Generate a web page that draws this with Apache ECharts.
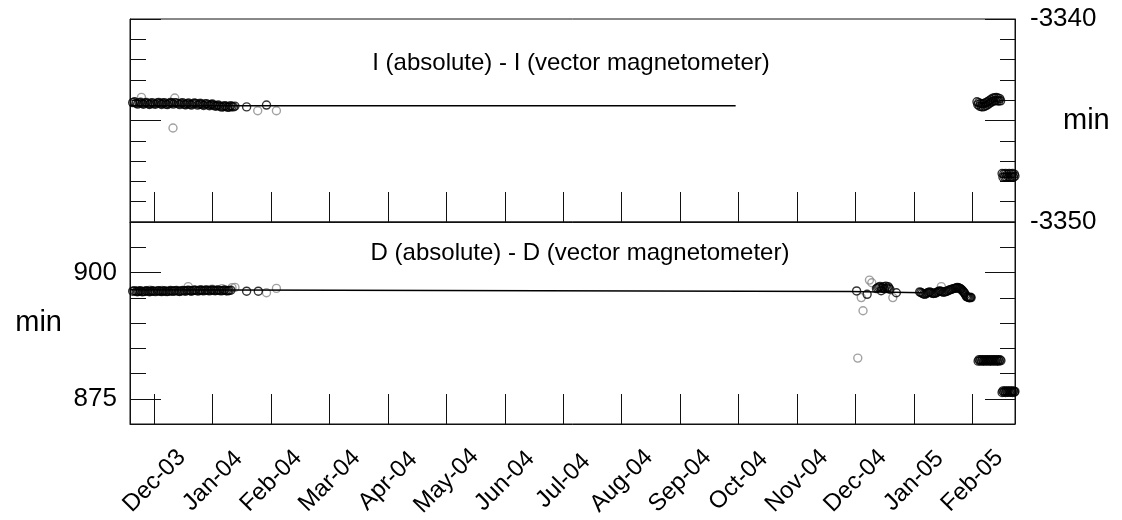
<!DOCTYPE html>
<html><head><meta charset="utf-8">
<script src="https://cdn.jsdelivr.net/npm/echarts@6/dist/echarts.min.js"></script>
<style>html,body{margin:0;padding:0;background:#fff}#c{width:1122px;height:520px}</style>
</head><body><div id="c"></div>
<script>
// ---- axis tick data ----
const monthLabels = ['Dec-03','Jan-04','Feb-04','Mar-04','Apr-04','May-04','Jun-04','Jul-04','Aug-04','Sep-04','Oct-04','Nov-04','Dec-04','Jan-05','Feb-05'];
const tickMonths = [0,1,2,3,4,5,6,7,8,9,10,11,12,13,14]; // months after Dec-03
const iMajorTicks = [-3350,-3345,-3340];
const iLabelValues = [-3350,-3340];
const dMajorTicks = [875,900];
const dLabelValues = [875,900];

// ---- I (absolute) - I (vector magnetometer)  [x: months after Dec-03, y: min] ----
const iBlack = [
[-0.37,-3344.12],[-0.34,-3344.08],[-0.31,-3344.15],[-0.285,-3344.19],[-0.26,-3344.13],[-0.235,-3344.10],[-0.21,-3344.16],[-0.185,-3344.20],
[-0.16,-3344.14],[-0.135,-3344.11],[-0.11,-3344.17],[-0.085,-3344.21],[-0.06,-3344.15],[-0.035,-3344.12],[-0.01,-3344.18],[0.02,-3344.20],
[0.05,-3344.14],[0.075,-3344.11],[0.10,-3344.17],[0.125,-3344.21],[0.15,-3344.15],[0.175,-3344.12],[0.20,-3344.19],[0.225,-3344.22],
[0.25,-3344.16],[0.275,-3344.11],[0.30,-3344.14],[0.325,-3344.19],[0.35,-3344.12],[0.38,-3344.13],[0.41,-3344.17],[0.435,-3344.22],
[0.46,-3344.15],[0.485,-3344.12],[0.51,-3344.19],[0.535,-3344.23],[0.56,-3344.17],[0.585,-3344.14],[0.61,-3344.20],[0.635,-3344.24],
[0.66,-3344.18],[0.685,-3344.14],[0.71,-3344.16],[0.74,-3344.24],[0.77,-3344.20],[0.795,-3344.16],[0.82,-3344.22],[0.845,-3344.26],
[0.87,-3344.19],[0.895,-3344.17],[0.92,-3344.23],[0.945,-3344.27],[0.97,-3344.21],[0.995,-3344.19],[1.02,-3344.25],[1.045,-3344.30],
[1.07,-3344.27],[1.095,-3344.24],[1.12,-3344.30],[1.15,-3344.34],[1.18,-3344.32],[1.205,-3344.27],[1.23,-3344.30],[1.255,-3344.35],
[1.28,-3344.33],[1.305,-3344.27],[1.33,-3344.31],[1.355,-3344.33],[1.38,-3344.29],[1.58,-3344.33],[1.92,-3344.24],
[14.080,-3344.08],[14.095,-3344.22],[14.110,-3344.12],[14.125,-3344.30],[14.140,-3344.16],[14.155,-3344.32],[14.170,-3344.18],[14.185,-3344.33],
[14.200,-3344.16],[14.215,-3344.30],[14.230,-3344.12],[14.245,-3344.26],[14.260,-3344.08],[14.275,-3344.20],[14.290,-3344.02],[14.305,-3344.14],
[14.320,-3343.96],[14.335,-3344.08],[14.350,-3343.90],[14.365,-3344.04],[14.380,-3343.88],[14.395,-3344.02],[14.410,-3343.87],[14.425,-3344.03],
[14.440,-3343.89],[14.455,-3344.04],[14.470,-3343.92],[14.485,-3344.03],
[14.510,-3347.61],[14.525,-3347.79],[14.540,-3347.63],[14.555,-3347.78],[14.570,-3347.61],[14.585,-3347.79],[14.600,-3347.64],[14.615,-3347.77],
[14.630,-3347.61],[14.645,-3347.79],[14.660,-3347.63],[14.675,-3347.78],[14.690,-3347.61],[14.705,-3347.79],[14.720,-3347.64],[14.730,-3347.74]
];
const iGray = [
[-0.33,-3344.10],[-0.22,-3343.86],[-0.07,-3344.20],[0.13,-3344.12],[0.32,-3345.37],[0.35,-3343.89],[0.53,-3344.22],
[0.78,-3344.15],[0.99,-3344.26],[1.16,-3344.28],[1.30,-3344.35],[1.77,-3344.52],[2.09,-3344.52]
];
const iLine = [[-0.42,-3344.27],[9.95,-3344.27]];

// ---- D (absolute) - D (vector magnetometer) ----
const dBlack = [
[-0.37,896.30],[-0.34,896.40],[-0.31,896.25],[-0.285,896.18],[-0.26,896.30],[-0.235,896.38],[-0.21,896.20],[-0.185,896.22],
[-0.16,896.28],[-0.135,896.40],[-0.11,896.32],[-0.085,896.20],[-0.06,896.25],[-0.035,896.38],[-0.01,896.30],[0.02,896.22],
[0.05,896.35],[0.075,896.42],[0.10,896.28],[0.125,896.22],[0.15,896.32],[0.175,896.42],[0.20,896.25],[0.225,896.24],
[0.25,896.30],[0.275,896.44],[0.30,896.35],[0.325,896.26],[0.35,896.40],[0.38,896.45],[0.41,896.30],[0.435,896.25],
[0.46,896.35],[0.485,896.46],[0.51,896.40],[0.535,896.30],[0.56,896.45],[0.585,896.50],[0.61,896.38],[0.635,896.30],
[0.66,896.42],[0.685,896.52],[0.71,896.47],[0.74,896.34],[0.77,896.40],[0.795,896.52],[0.82,896.45],[0.845,896.36],
[0.87,896.50],[0.895,896.55],[0.92,896.43],[0.945,896.36],[0.97,896.48],[0.995,896.56],[1.02,896.45],[1.045,896.38],
[1.07,896.50],[1.095,896.56],[1.12,896.42],[1.15,896.36],[1.18,896.47],[1.205,896.55],[1.23,896.40],[1.255,896.37],
[1.28,896.45],[1.31,896.50],[1.58,896.30],[1.78,896.30],
[12.02,896.35],[12.20,895.68],[12.36,896.80],[12.38,896.95],[12.40,897.10],[12.42,897.25],[12.44,896.40],[12.45,897.00],
[12.47,896.90],[12.48,897.20],[12.50,896.75],[12.52,897.30],[12.54,896.90],[12.56,897.20],[12.57,896.95],[12.59,896.65],[12.70,896.00],
[13.10,896.15],[13.12,896.05],[13.14,895.90],[13.165,895.75],[13.19,895.68],[13.21,895.85],[13.23,895.95],[13.25,896.05],
[13.27,896.15],[13.29,896.05],[13.31,895.90],[13.335,895.85],[13.36,895.88],[13.38,896.00],[13.40,896.10],[13.42,896.25],
[13.44,896.35],[13.46,896.30],[13.48,896.20],[13.505,896.10],[13.53,896.15],[13.55,896.25],[13.57,896.30],[13.59,896.45],
[13.61,896.54],[13.63,896.60],[13.65,896.70],[13.675,896.80],[13.70,896.86],[13.715,896.90],[13.73,896.95],[13.745,897.05],
[13.76,897.00],[13.775,896.90],[13.79,896.85],[13.80,896.75],[13.81,896.66],[13.825,896.50],[13.84,896.30],[13.855,896.10],
[13.87,895.88],[13.885,895.55],[13.90,895.23],[13.915,895.15],[13.93,895.10],[13.945,895.00],[13.96,895.03],[13.97,895.10],[13.98,895.03],
[14.100,882.45],[14.115,882.75],[14.130,882.50],[14.145,882.72],[14.160,882.45],[14.175,882.75],[14.190,882.48],[14.205,882.74],
[14.220,882.46],[14.235,882.75],[14.250,882.50],[14.265,882.72],[14.280,882.45],[14.295,882.75],[14.310,882.48],[14.325,882.74],
[14.340,882.46],[14.355,882.75],[14.370,882.50],[14.385,882.72],[14.400,882.45],[14.415,882.75],[14.430,882.48],[14.445,882.74],
[14.460,882.46],[14.475,882.72],[14.490,882.55],
[14.510,876.25],[14.525,876.55],[14.540,876.28],[14.555,876.52],[14.570,876.25],[14.585,876.55],[14.600,876.30],[14.615,876.52],
[14.630,876.26],[14.645,876.55],[14.660,876.28],[14.675,876.52],[14.690,876.25],[14.705,876.55],[14.720,876.30],[14.730,876.45]
];
const dGray = [
[-0.28,896.40],[-0.07,896.50],[0.13,896.45],[0.58,897.20],[0.78,896.60],[0.99,896.70],[1.16,896.80],[1.33,897.00],[1.38,897.05],
[1.92,896.00],[2.09,896.85],[12.04,883.05],[12.10,895.03],[12.13,892.42],[12.24,898.50],[12.28,897.98],[12.64,895.03],[13.47,897.20]
];
const dLine = [[-0.42,896.57],[11.9,896.25],[13.15,896.0]];

// ---- chart ----
const FONT = "'Liberation Sans', Arial, Helvetica, sans-serif";
const X_MIN = -0.416, X_MAX = 14.731;
const AX = '#111';

function xAxisFor(gridIndex, showLabels) {
  return {
    type: 'value', gridIndex, min: X_MIN, max: X_MAX, position: 'bottom',
    axisLine: {show: true, onZero: false, lineStyle: {color: AX, width: 1}},
    axisTick: {show: true, inside: true, length: 30, customValues: tickMonths, lineStyle: {color: AX, width: 1}},
    axisLabel: showLabels ? {
      show: true, customValues: tickMonths,
      formatter: v => monthLabels[tickMonths.indexOf(Math.round(v))],
      rotate: 45, align: 'center', verticalAlign: 'middle', margin: 57,
      fontSize: 24, color: '#000', fontFamily: FONT
    } : {show: false},
    splitLine: {show: false}
  };
}
function yAxisFor(o) {
  const ax = {
    type: 'value', gridIndex: o.grid, position: o.pos, min: o.min, max: o.max,
    axisLine: {show: !!o.line, onZero: false, lineStyle: {color: AX, width: 1}},
    axisTick: {show: true, inside: true, length: o.len, lineStyle: {color: AX, width: 1}},
    axisLabel: {show: false},
    splitLine: {show: false}
  };
  if (o.interval) ax.interval = o.interval;
  if (o.ticks) ax.axisTick.customValues = o.ticks;
  if (o.labels) ax.axisLabel = {show: true, customValues: o.labels, margin: o.pos === 'left' ? 13 : 15,
      formatter: v => String(v), fontSize: 26, color: '#000', fontFamily: FONT};
  if (o.name) {
    ax.name = o.name; ax.nameLocation = 'middle'; ax.nameRotate = 0; ax.nameGap = o.nameGap;
    ax.nameMoveOverlap = false;
    ax.nameTextStyle = {fontSize: 29, color: '#000', fontFamily: FONT,
      align: o.pos === 'left' ? 'right' : 'left', verticalAlign: 'middle'};
  }
  return ax;
}

const circle = (color) => ({color: 'rgba(0,0,0,0)', borderColor: color, borderWidth: 1.4});
const SYM = 8;

const option = {
  animation: false,
  backgroundColor: '#fff',
  title: [
    {text: 'I (absolute) - I (vector magnetometer)', left: 566, top: 46, textAlign: 'center',
     textStyle: {fontSize: 24, fontWeight: 'normal', color: '#000', fontFamily: FONT}},
    {text: 'D (absolute) - D (vector magnetometer)', left: 575, top: 236, textAlign: 'center',
     textStyle: {fontSize: 24, fontWeight: 'normal', color: '#000', fontFamily: FONT}}
  ],
  grid: [
    {left: 130, right: 107, top: 19, height: 203, outerBoundsMode: 'none', containLabel: false,
     show: true, borderColor: AX, borderWidth: 1, backgroundColor: 'transparent'},
    {left: 130, right: 107, top: 222, height: 202, outerBoundsMode: 'none', containLabel: false,
     show: true, borderColor: AX, borderWidth: 1, backgroundColor: 'transparent'}
  ],
  xAxis: [xAxisFor(0, false), xAxisFor(1, true)],
  yAxis: [
    yAxisFor({grid: 0, pos: 'right', min: -3350, max: -3340, interval: 1, len: 15, line: true, labels: iLabelValues, name: 'min', nameGap: 48}),
    yAxisFor({grid: 0, pos: 'right', min: -3350, max: -3340, ticks: iMajorTicks, len: 30}),
    yAxisFor({grid: 0, pos: 'left', min: -3350, max: -3340, interval: 1, len: 16, line: true}),
    yAxisFor({grid: 0, pos: 'left', min: -3350, max: -3340, ticks: iMajorTicks, len: 31}),
    yAxisFor({grid: 1, pos: 'left', min: 870, max: 910, interval: 5, len: 16, line: true, labels: dLabelValues, name: 'min', nameGap: 68}),
    yAxisFor({grid: 1, pos: 'left', min: 870, max: 910, ticks: dMajorTicks, len: 31}),
    yAxisFor({grid: 1, pos: 'right', min: 870, max: 910, interval: 5, len: 15, line: true}),
    yAxisFor({grid: 1, pos: 'right', min: 870, max: 910, ticks: dMajorTicks, len: 30})
  ],
  series: [
    {type: 'line', xAxisIndex: 0, yAxisIndex: 0, data: iLine, symbol: 'none', lineStyle: {color: '#000', width: 1.5}, silent: true},
    {type: 'scatter', xAxisIndex: 0, yAxisIndex: 0, data: iGray, symbol: 'circle', symbolSize: SYM, itemStyle: circle('#8a8a8a'), clip: false},
    {type: 'scatter', xAxisIndex: 0, yAxisIndex: 0, data: iBlack, symbol: 'circle', symbolSize: SYM, itemStyle: circle('#000'), clip: false},
    {type: 'line', xAxisIndex: 1, yAxisIndex: 4, data: dLine, symbol: 'none', lineStyle: {color: '#000', width: 1.5}, silent: true},
    {type: 'scatter', xAxisIndex: 1, yAxisIndex: 4, data: dGray, symbol: 'circle', symbolSize: SYM, itemStyle: circle('#8a8a8a'), clip: false},
    {type: 'scatter', xAxisIndex: 1, yAxisIndex: 4, data: dBlack, symbol: 'circle', symbolSize: SYM, itemStyle: circle('#000'), clip: false}
  ]
};
const chart = echarts.init(document.getElementById('c'), null, {renderer: 'canvas'});
chart.setOption(option);
</script>
</body></html>
